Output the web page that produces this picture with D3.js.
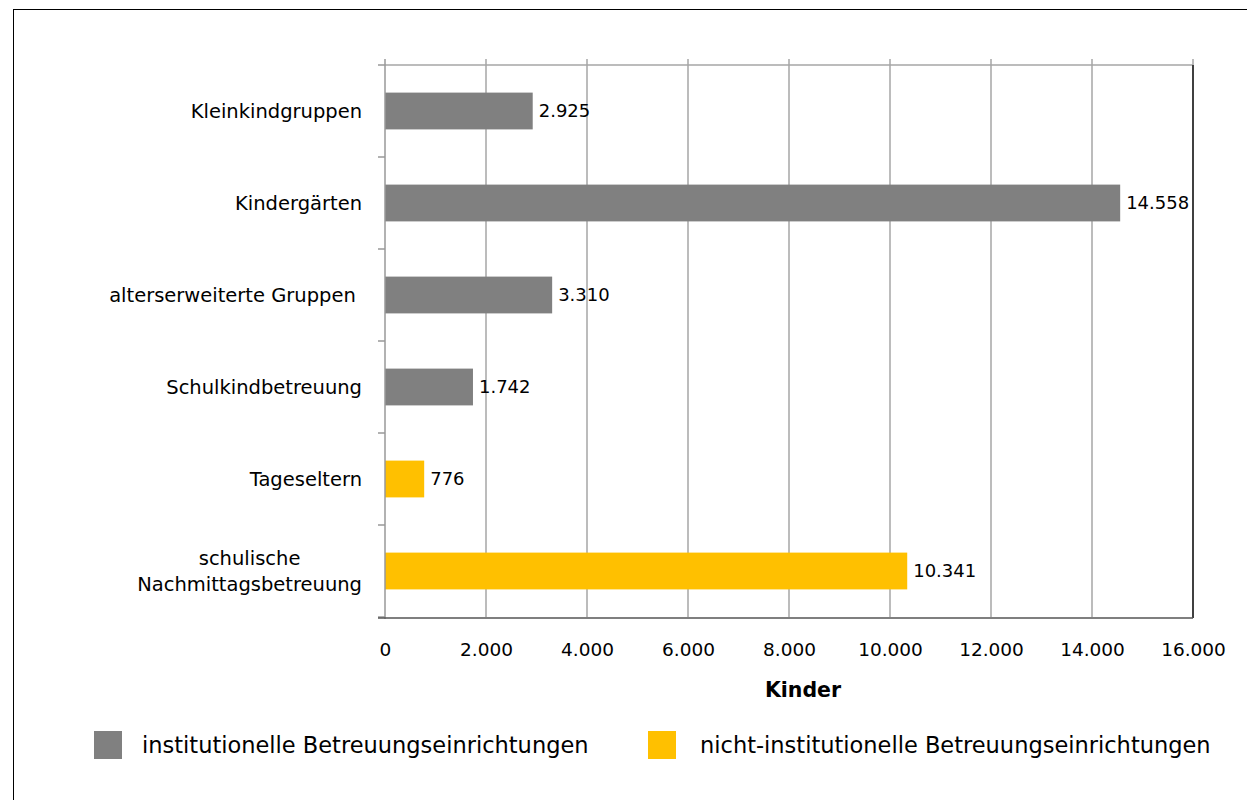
<!DOCTYPE html>
<html>
<head>
<meta charset="utf-8">
<script src="https://cdn.jsdelivr.net/npm/d3@7"></script>
<style>
  body { margin: 0; background: #fff; }
  text { font-family: "DejaVu Sans", sans-serif; fill: #000; }
</style>
</head>
<body>
<svg id="chart" width="1247" height="800"></svg>
<script>
var categories = ["Kleinkindgruppen", "Kindergärten", "alterserweiterte Gruppen ", "Schulkindbetreuung", "Tageseltern", "schulische\nNachmittagsbetreuung"];
var values = [2925, 14558, 3310, 1742, 776, 10341];
var groups = ["inst", "inst", "inst", "inst", "nicht", "nicht"];
var xTicks = [0, 2000, 4000, 6000, 8000, 10000, 12000, 14000, 16000];
var legendLabels = ["institutionelle Betreuungseinrichtungen", "nicht-institutionelle Betreuungseinrichtungen"];

var colors = {inst: "#808080", nicht: "#FFC000"};
var fmt = d3.formatLocale({decimal: ",", thousands: ".", grouping: [3]}).format(",d");

var svg = d3.select("#chart"),
  pLeft = 385, pRight = 1193, pTop = 65, pBottom = 617;

// outer frame
svg.append("rect")
  .attr("x", 13.5).attr("y", 9.5)
  .attr("width", 1250).attr("height", 820)
  .attr("fill", "none").attr("stroke", "#000").attr("stroke-width", 1);

var x = d3.scaleLinear().domain([0, 16000]).range([pLeft, pRight]);
var y = d3.scaleBand().domain(d3.range(categories.length)).range([pTop, pBottom]).paddingInner(0.6).paddingOuter(0.3);
var yOuter = d3.scaleBand().domain(d3.range(categories.length)).range([pTop, pBottom]);

// vertical gridlines
svg.append("g")
  .selectAll("line")
  .data(xTicks.slice(1))
  .enter().append("line")
  .attr("x1", function (d) { return x(d); })
  .attr("x2", function (d) { return x(d); })
  .attr("y1", pTop - 6).attr("y2", pBottom)
  .attr("stroke", "#a6a6a6").attr("stroke-width", 1.5);

// top line
svg.append("line")
  .attr("x1", pLeft).attr("x2", pRight)
  .attr("y1", pTop).attr("y2", pTop)
  .attr("stroke", "#a6a6a6").attr("stroke-width", 1.5);

// right border
svg.append("line")
  .attr("x1", pRight).attr("x2", pRight)
  .attr("y1", pTop).attr("y2", pBottom + 1)
  .attr("stroke", "#404040").attr("stroke-width", 2);

// bars
svg.append("g")
  .selectAll("rect")
  .data(values)
  .enter().append("rect")
  .attr("x", x(0))
  .attr("y", function (d, i) { return y(i); })
  .attr("width", function (d) { return x(d) - x(0); })
  .attr("height", y.bandwidth())
  .attr("fill", function (d, i) { return colors[groups[i]]; });

// value labels
svg.append("g")
  .selectAll("text")
  .data(values)
  .enter().append("text")
  .attr("x", function (d) { return x(d) + 6; })
  .attr("y", function (d, i) { return y(i) + y.bandwidth() / 2; })
  .attr("dy", "0.36em")
  .style("font-size", "18px")
  .text(function (d) { return fmt(d); });

// left axis with category ticks
var yAxis = svg.append("g");
yAxis.append("line")
  .attr("x1", pLeft).attr("x2", pLeft)
  .attr("y1", pTop - 6).attr("y2", pBottom + 2)
  .attr("stroke", "#999").attr("stroke-width", 1.5);
yAxis.selectAll("line.tick")
  .data(d3.range(categories.length + 1))
  .enter().append("line")
  .attr("class", "tick")
  .attr("x1", pLeft - 7).attr("x2", pLeft)
  .attr("y1", function (d) { return pTop + d * yOuter.step(); })
  .attr("y2", function (d) { return pTop + d * yOuter.step(); })
  .attr("stroke", "#999").attr("stroke-width", 1.5);

// category labels
var labelRight = 362, lineGap = 26;
svg.append("g")
  .selectAll("text")
  .data(categories)
  .enter().append("text")
  .attr("y", function (d, i) { return yOuter(i) + yOuter.bandwidth() / 2; })
  .style("font-size", "19.5px")
  .style("white-space", "pre")
  .each(function (d) {
    var lines = d.split("\n"), t = d3.select(this), cy = +t.attr("y");
    var spans = lines.map(function (l, k) {
      return t.append("tspan")
        .attr("y", cy + 7 + (k - (lines.length - 1) / 2) * lineGap)
        .text(l);
    });
    if (lines.length > 1) {
      var w = d3.max(spans, function (s) { return s.node().getComputedTextLength(); });
      t.attr("text-anchor", "middle");
      spans.forEach(function (s) { s.attr("x", labelRight - w / 2); });
    } else {
      t.attr("text-anchor", "end");
      spans[0].attr("x", labelRight);
    }
  });

// bottom axis
var xAxis = svg.append("g")
  .attr("transform", "translate(0," + (pBottom + 1) + ")")
  .call(d3.axisBottom(x).tickValues(xTicks).tickSize(0).tickPadding(25).tickFormat(function (d) { return fmt(d); }));
xAxis.select(".domain").remove();
xAxis.selectAll("text").style("font-size", "18.5px").style("font-family", "DejaVu Sans, sans-serif").style("fill", "#000");
svg.append("line")
  .attr("x1", pLeft - 7).attr("x2", pRight)
  .attr("y1", pBottom + 1).attr("y2", pBottom + 1)
  .attr("stroke", "#555").attr("stroke-width", 1.5);

// axis title
svg.append("text")
  .attr("x", (pLeft + pRight) / 2 + 14)
  .attr("y", 697)
  .attr("text-anchor", "middle")
  .style("font-size", "20.5px")
  .style("font-weight", "bold")
  .text("Kinder");

// legend
var legendX = [94, 648];
var lg = svg.append("g")
  .selectAll("g")
  .data(legendLabels)
  .enter().append("g")
  .attr("transform", function (d, i) { return "translate(" + legendX[i] + ",731)"; });
lg.append("rect")
  .attr("width", 28).attr("height", 28)
  .attr("fill", function (d, i) { return colors[i === 0 ? "inst" : "nicht"]; });
lg.append("text")
  .attr("x", function (d, i) { return i === 0 ? 48 : 52; })
  .attr("y", 22)
  .style("font-size", "22.5px")
  .text(function (d) { return d; });
</script>
</body>
</html>
